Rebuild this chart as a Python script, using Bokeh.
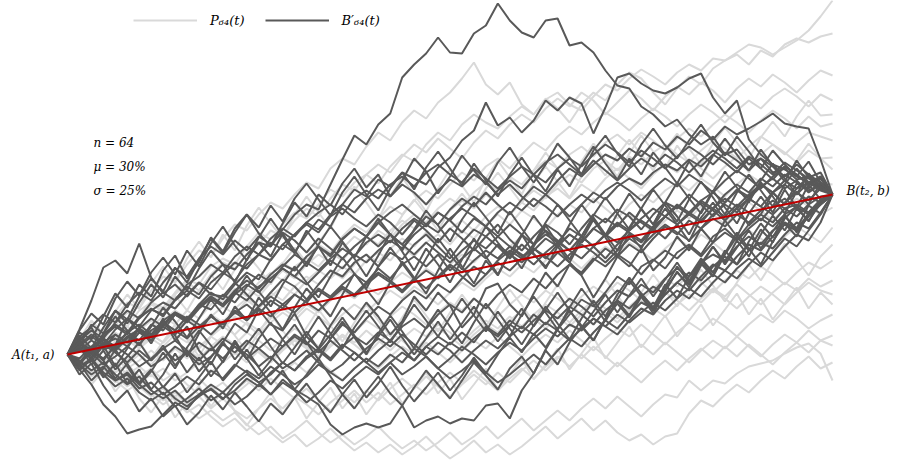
from bokeh.plotting import figure
from bokeh.models import Range1d, Legend, LegendItem, Label, ColumnDataSource
from bokeh.embed import file_html
from bokeh.resources import INLINE

# ---------------- data (values in chart units, A = 0, B = 160) ----------------
n_steps = 64
t_steps = list(range(n_steps + 1))
a_value = 0
b_value = 160
label_n = "n = 64"
label_mu = "μ = 30%"
label_sigma = "σ = 25%"

# Unconditioned paths P_64(t)
p01 = [0, 14, 8, 25, 35, 28, 44, 52, 47, 62, 75, 70, 88,
       96, 90, 108, 122, 115, 130, 142, 136, 150, 165, 158, 172, 180,
       171, 188, 200, 193, 210, 222, 214, 230, 240, 232, 226, 238, 248,
       240, 255, 262, 250, 244, 258, 270, 264, 276, 285, 278, 270, 282,
       290, 284, 296, 294, 302, 310, 307, 300, 307, 314, 324, 338, 354]
p02 = [0, 12, 26, 20, 38, 52, 46, 64, 78, 72, 90, 104, 98,
       116, 130, 124, 140, 152, 146, 160, 172, 166, 186, 196, 190, 208,
       222, 214, 232, 244, 236, 252, 262, 276, 292, 270, 260, 272, 250,
       240, 256, 246, 232, 250, 262, 254, 270, 282, 276, 262, 250, 266,
       278, 270, 286, 294, 300, 290, 304, 298, 310, 316, 312, 318, 321]
p03 = [0, 10, 22, 14, 30, 42, 36, 50, 44, 60, 72, 64, 80,
       92, 86, 100, 110, 124, 118, 134, 146, 138, 156, 170, 164, 180,
       190, 182, 198, 210, 202, 216, 206, 196, 212, 224, 216, 230, 240,
       232, 246, 256, 248, 262, 254, 240, 252, 264, 256, 244, 258, 268,
       260, 272, 264, 252, 266, 276, 268, 280, 272, 262, 274, 284, 279]
p04 = [0, 6, -4, 8, 18, 10, 24, 34, 26, 40, 32, 46, 56,
       48, 62, 74, 66, 80, 92, 84, 98, 110, 102, 118, 130, 122,
       136, 148, 140, 154, 164, 156, 170, 182, 174, 188, 196, 186, 200,
       212, 204, 218, 228, 220, 232, 242, 234, 224, 236, 246, 238, 228,
       240, 250, 242, 232, 244, 254, 246, 258, 266, 258, 248, 260, 254]
p05 = [0, -8, 4, 14, 6, 20, 12, 28, 38, 30, 44, 36, 50,
       60, 52, 66, 58, 72, 84, 76, 90, 100, 92, 106, 118, 110,
       124, 116, 130, 140, 132, 146, 156, 148, 162, 172, 164, 178, 170,
       184, 194, 186, 200, 208, 198, 212, 220, 210, 222, 214, 204, 216,
       226, 218, 230, 240, 232, 222, 234, 244, 236, 226, 238, 228, 231]
p06 = [0, 8, 16, 8, 22, 14, 28, 20, 34, 44, 36, 50, 60,
       52, 66, 58, 72, 82, 74, 88, 96, 88, 102, 94, 108, 118,
       110, 124, 134, 126, 140, 130, 144, 154, 146, 160, 150, 140, 154,
       164, 156, 170, 180, 172, 186, 194, 184, 198, 190, 202, 210, 200,
       192, 204, 214, 206, 196, 208, 218, 210, 200, 212, 222, 218, 214]
p07 = [0, -10, 0, -8, 6, 14, 6, 20, 12, 26, 36, 28, 40,
       32, 46, 56, 48, 62, 54, 68, 78, 70, 84, 76, 90, 100,
       92, 106, 116, 108, 122, 112, 126, 134, 124, 138, 148, 140, 152,
       144, 158, 166, 156, 170, 162, 176, 186, 176, 166, 180, 190, 182,
       194, 186, 176, 188, 198, 190, 200, 210, 202, 192, 204, 196, 197]
p08 = [0, 6, -2, 10, 2, 14, 24, 16, 28, 20, 34, 26, 38,
       48, 40, 54, 46, 58, 68, 60, 74, 84, 76, 88, 80, 94,
       102, 94, 108, 98, 112, 120, 110, 124, 116, 130, 140, 130, 144,
       136, 126, 140, 150, 142, 156, 146, 136, 150, 160, 152, 164, 172,
       164, 176, 168, 158, 170, 180, 172, 162, 174, 166, 178, 172, 170]
p09 = [0, -6, 4, -4, 8, 16, 8, 20, 12, 24, 16, 6, 18,
       28, 20, 32, 24, 36, 46, 38, 50, 42, 54, 64, 56, 68,
       60, 72, 82, 74, 86, 78, 90, 100, 92, 104, 96, 108, 118,
       110, 122, 114, 104, 116, 126, 118, 130, 140, 132, 122, 134, 144,
       136, 148, 140, 130, 142, 152, 144, 134, 146, 156, 148, 140, 147]
p10 = [0, 8, 0, -10, 2, -6, 6, 16, 8, 20, 12, 24, 34,
       26, 38, 30, 20, 32, 42, 34, 46, 38, 28, 40, 50, 42,
       54, 64, 56, 68, 60, 50, 62, 72, 64, 76, 86, 78, 90,
       82, 94, 104, 96, 86, 98, 108, 100, 112, 104, 94, 106, 116,
       108, 120, 112, 102, 114, 124, 116, 106, 118, 128, 120, 112, 127]
p11 = [0, -6, -16, -8, -18, -10, 0, -10, 2, -6, 6, -4, 8,
       18, 10, 22, 14, 4, 16, 26, 18, 8, 20, 30, 22, 34,
       26, 38, 48, 40, 30, 42, 52, 44, 56, 48, 38, 50, 60,
       52, 64, 56, 46, 58, 68, 60, 72, 64, 54, 66, 76, 68,
       80, 72, 62, 74, 84, 76, 88, 80, 70, 82, 92, 86, 94]
p12 = [0, 4, -6, -16, -8, -20, -12, -22, -14, -26, -18, -8, -18,
       -8, 2, -8, 4, -6, 6, 16, 8, -2, 10, 20, 12, 24,
       14, 4, 16, 26, 18, 30, 22, 12, 24, 34, 26, 38, 28,
       40, 50, 42, 32, 44, 54, 46, 36, 48, 58, 50, 62, 54,
       44, 56, 66, 58, 70, 60, 50, 62, 72, 64, 76, 68, 74]
p13 = [0, -10, -2, -14, -24, -16, -28, -20, -32, -42, -34, -24, -36,
       -28, -40, -30, -20, -30, -18, -8, -18, -6, -16, -26, -14, -4,
       -14, -2, 8, 0, 12, 2, -8, 4, 14, 6, 18, 8, -2,
       10, 20, 12, 24, 14, 4, 16, 26, 18, 30, 20, 10, 22,
       32, 24, 36, 28, 18, 30, 40, 32, 44, 36, 26, 34, 40]
p14 = [0, -8, -18, -10, -22, -32, -24, -36, -46, -38, -50, -42, -54,
       -44, -56, -64, -54, -44, -54, -42, -50, -60, -48, -38, -48, -36,
       -46, -34, -24, -34, -22, -32, -42, -30, -20, -30, -18, -28, -16,
       -6, -16, -4, 6, -4, 8, -2, -12, 0, 10, 0, 12, 2,
       -8, 4, 14, 6, 18, 8, -2, 10, 20, 12, 24, 14, 19]
p15 = [0, -6, 4, -8, -18, -10, -22, -14, -26, -18, -30, -40, -32,
       -44, -36, -26, -36, -24, -34, -44, -34, -46, -56, -46, -36, -48,
       -38, -50, -40, -30, -40, -28, -18, -28, -16, -26, -36, -24, -14,
       -24, -12, -2, -12, 0, -10, -20, -8, -18, -28, -16, -6, -16,
       -4, 6, -4, 8, -2, 10, 0, -10, 2, 12, 2, 14, 9]
p16 = [0, -10, -22, -14, -26, -36, -28, -40, -50, -42, -54, -64, -56,
       -66, -58, -70, -80, -72, -84, -76, -66, -78, -88, -80, -90, -82,
       -72, -84, -94, -86, -96, -88, -78, -90, -82, -72, -84, -74, -64,
       -76, -66, -56, -66, -54, -44, -54, -42, -52, -62, -50, -40, -43,
       -26, -36, -26, -29, -19, -12, -9, -6, 1, 7, 11, 1, -26]
p17 = [0, -12, -4, -16, -28, -20, -32, -42, -34, -46, -58, -50, -62,
       -72, -64, -76, -66, -78, -88, -80, -92, -84, -74, -86, -96, -88,
       -98, -90, -100, -92, -82, -94, -104, -96, -86, -98, -90, -100, -92,
       -82, -72, -84, -74, -64, -76, -66, -78, -86, -80, -90, -82, -79,
       -59, -46, -52, -40, -30, -38, -26, -16, -24, -12, -2, -14, -8]
p18 = [0, 8, -2, 6, -4, -14, -6, 4, -6, 6, -4, 8, 18,
       10, 0, 12, 2, -8, 4, 14, 6, -4, 8, 18, 10, 0,
       12, 22, 14, 4, 16, 26, 18, 8, 20, 30, 22, 34, 44,
       36, 26, 38, 28, 40, 50, 42, 32, 44, 54, 46, 38, 50,
       60, 52, 64, 56, 46, 58, 68, 60, 50, 62, 72, 64, 60]
p19 = [0, 15, 34, 21, 43, 60, 46, 71, 88, 72, 96, 113, 97,
       120, 104, 129, 147, 131, 116, 140, 158, 142, 126, 150, 168, 152,
       135, 159, 177, 160, 143, 166, 185, 169, 152, 176, 194, 177, 160,
       184, 202, 186, 169, 193, 211, 194, 178, 201, 219, 203, 186, 209,
       192, 176, 198, 215, 199, 182, 205, 188, 172, 194, 211, 196, 185]
p20 = [0, -14, -30, -16, -37, -22, -44, -58, -41, -63, -48, -31, -52,
       -36, -57, -71, -54, -38, -59, -43, -64, -48, -33, -54, -39, -60,
       -44, -28, -49, -34, -18, -39, -24, -45, -30, -14, -35, -20, -4,
       -25, -10, 6, -15, 1, 17, -4, 12, 28, 7, 23, 39, 18,
       34, 50, 29, 45, 61, 40, 56, 35, 51, 67, 46, 62, 50]
p21 = [0, 11, -4, 17, 33, 18, 38, 54, 39, 59, 44, 64, 80,
       65, 85, 101, 86, 70, 91, 107, 92, 112, 128, 113, 97, 118,
       134, 119, 139, 155, 140, 124, 145, 161, 146, 166, 182, 167, 151,
       172, 188, 173, 157, 178, 194, 179, 199, 215, 200, 184, 205, 221,
       206, 190, 211, 227, 212, 196, 217, 233, 218, 238, 254, 239, 240]
p22 = [0, -9, 8, -5, 14, 29, 12, -4, 13, 30, 15, -2, 18,
       35, 19, 3, 22, 40, 24, 8, 27, 45, 29, 13, 32, 50,
       34, 18, 37, 55, 39, 23, 42, 60, 44, 28, 47, 65, 49,
       33, 52, 70, 54, 38, 57, 75, 59, 43, 62, 80, 64, 48,
       67, 85, 69, 53, 72, 90, 74, 93, 111, 95, 79, 98, 110]

# Bridges B'_64(t), all pinned at A and B
b01 = [0, 12, 5, 20, 30, 22, 38, 45, 40, 55, 68, 60, 78,
       90, 85, 100, 112, 108, 125, 140, 150, 145, 170, 195, 219, 210,
       230, 241, 277, 290, 301, 317, 302, 301, 321, 329, 351, 334, 322,
       317, 334, 336, 309, 312, 302, 284, 269, 266, 248, 240, 228, 235,
       220, 210, 218, 200, 205, 190, 196, 182, 186, 175, 178, 168, 160]
b02 = [0, -8, 6, 15, 4, 18, 25, 14, 30, 42, 35, 50, 62,
       55, 70, 82, 75, 95, 110, 102, 120, 135, 128, 150, 165, 158,
       175, 168, 182, 176, 170, 187, 197, 214, 224, 252, 229, 237, 222,
       234, 254, 244, 257, 251, 221, 247, 277, 281, 271, 264, 261, 267,
       276, 281, 257, 241, 254, 215, 200, 190, 185, 178, 172, 168, 160]
b03 = [0, -15, -30, -50, -62, -79, -75, -72, -60, -48, -55, -40, -35,
       -45, -30, -20, -28, -40, -25, -35, -42, -50, -70, -80, -73, -69,
       -73, -69, -51, -73, -66, -62, -69, -64, -66, -51, -49, -64, -36,
       -19, 5, 25, 40, 55, 48, 62, 78, 70, 88, 95, 86, 102,
       110, 100, 118, 126, 115, 130, 140, 132, 146, 150, 142, 155, 160]
b04 = [0, 25, 54, 87, 94, 81, 111, 77, 61, 70, 58, 72, 60,
       58, 72, 60, 48, 62, 75, 68, 55, 70, 84, 78, 92, 100,
       88, 102, 95, 110, 120, 108, 96, 112, 125, 118, 130, 115, 104,
       118, 130, 122, 110, 126, 140, 132, 145, 138, 125, 140, 152, 146,
       160, 150, 138, 152, 165, 158, 170, 162, 150, 166, 172, 164, 160]
b05 = [0, -10, 4, -6, 10, 22, 14, 30, 24, 40, 34, 50, 45,
       60, 52, 68, 80, 72, 88, 100, 92, 108, 98, 115, 126, 118,
       132, 120, 110, 124, 138, 130, 145, 156, 148, 162, 150, 140, 155,
       168, 160, 174, 186, 178, 190, 200, 194, 206, 198, 212, 205, 218,
       210, 224, 215, 228, 220, 226, 233, 241, 231, 228, 226, 195, 160]
b06 = [0, 8, 18, 10, 25, 36, 28, 44, 52, 46, 60, 72, 65,
       80, 92, 86, 100, 112, 105, 120, 132, 125, 140, 150, 142, 156,
       165, 158, 170, 162, 150, 164, 175, 168, 180, 172, 160, 170, 158,
       148, 160, 150, 138, 150, 162, 155, 168, 176, 170, 182, 190, 184,
       195, 188, 200, 192, 182, 196, 186, 175, 188, 180, 170, 176, 160]
b07 = [0, -12, -4, -18, -26, -20, -34, -28, -40, -32, -22, -30, -16,
       -24, -10, -18, -28, -20, -8, -16, -2, 6, -4, 10, 2, -8,
       4, 14, 6, -6, 8, 18, 10, 22, 12, 28, 20, 34, 26,
       40, 30, 44, 56, 48, 38, 52, 64, 58, 70, 62, 76, 86,
       78, 92, 100, 94, 108, 118, 110, 124, 132, 126, 140, 150, 160]
b08 = [0, 6, -4, 10, 16, 8, 22, 14, 28, 20, 34, 26, 38,
       30, 42, 50, 40, 54, 46, 60, 52, 66, 58, 70, 80, 72,
       86, 76, 90, 98, 88, 100, 84, 96, 106, 96, 110, 100, 92,
       104, 116, 108, 120, 112, 126, 118, 130, 122, 114, 128, 138, 130,
       142, 134, 146, 138, 150, 142, 134, 148, 156, 146, 158, 152, 160]
b09 = [0, -8, 4, -4, 8, 0, -12, -4, 6, -6, 2, -10, -2,
       10, 2, 14, 6, -4, 8, 18, 10, 24, 16, 30, 22, 36,
       48, 40, 54, 64, 56, 70, 62, 76, 88, 80, 94, 104, 96,
       110, 120, 112, 126, 118, 108, 120, 132, 124, 136, 146, 138, 150,
       142, 154, 162, 152, 164, 156, 168, 176, 166, 174, 162, 170, 160]
b10 = [0, 14, 24, 16, 32, 44, 36, 52, 62, 54, 70, 78, 90,
       82, 98, 108, 100, 116, 126, 118, 132, 142, 150, 140, 156, 164,
       156, 170, 178, 168, 182, 190, 180, 172, 186, 176, 166, 178, 188,
       180, 192, 200, 190, 180, 194, 184, 174, 186, 196, 188, 200, 192,
       182, 194, 204, 196, 186, 198, 190, 180, 192, 184, 176, 168, 160]
b11 = [0, -6, -16, -8, -20, -30, -22, -36, -44, -36, -48, -40, -30,
       -38, -26, -16, -24, -12, -20, -30, -22, -10, -18, -26, -14, -4,
       -12, 0, -8, 6, -2, -14, -4, 8, 0, -10, 2, 12, 4,
       16, 26, 18, 30, 24, 36, 28, 20, 34, 46, 40, 54, 64,
       56, 70, 80, 72, 86, 96, 88, 102, 116, 108, 124, 140, 160]
b12 = [0, 10, 2, 16, 8, 22, 30, 20, 34, 42, 36, 48, 58,
       50, 64, 74, 66, 80, 90, 84, 98, 108, 100, 116, 126, 118,
       132, 142, 150, 140, 130, 142, 134, 122, 136, 128, 118, 130, 120,
       110, 124, 114, 104, 118, 108, 96, 110, 120, 112, 126, 116, 130,
       140, 132, 146, 156, 148, 160, 170, 162, 174, 166, 178, 170, 160]
b13 = [0, -10, -20, -12, -26, -18, -30, -40, -32, -44, -52, -42, -34,
       -44, -36, -24, -32, -18, -8, -16, -4, 4, -6, 8, 18, 10,
       22, 14, 28, 36, 26, 40, 50, 42, 56, 46, 60, 70, 62,
       76, 66, 80, 90, 82, 96, 88, 100, 92, 80, 94, 104, 96,
       108, 98, 112, 122, 114, 126, 136, 128, 140, 148, 140, 152, 160]
b14 = [0, 12, 4, 18, 28, 20, 36, 46, 38, 54, 64, 56, 72,
       82, 74, 90, 100, 94, 110, 120, 130, 122, 138, 146, 136, 128,
       140, 132, 120, 134, 124, 112, 126, 116, 104, 118, 108, 96, 110,
       100, 88, 102, 92, 80, 94, 106, 98, 110, 102, 116, 128, 120,
       134, 126, 140, 150, 142, 156, 148, 162, 170, 160, 172, 166, 160]
b15 = [0, 6, -2, 10, 2, -8, 4, -6, 6, 14, 4, -6, 6,
       -4, 8, 0, -12, -2, -14, -6, 4, -8, -18, -10, 2, -8,
       -18, -8, -20, -12, -2, -14, -24, -16, -6, -18, -28, -20, -10,
       0, -10, 4, 16, 8, 22, 34, 26, 40, 52, 46, 60, 72,
       64, 78, 90, 84, 98, 110, 104, 118, 130, 124, 138, 150, 160]
b16 = [0, 4, 14, 6, 20, 12, 26, 36, 28, 42, 34, 48, 58,
       50, 62, 54, 68, 76, 86, 78, 92, 84, 96, 106, 98, 112,
       120, 112, 126, 136, 128, 142, 134, 148, 158, 150, 164, 174, 166,
       180, 172, 186, 196, 188, 200, 210, 202, 192, 204, 196, 186, 198,
       208, 200, 190, 202, 194, 184, 196, 188, 178, 190, 180, 172, 160]
b17 = [0, -14, -6, -20, -32, -24, -38, -46, -38, -52, -44, -34, -46,
       -38, -50, -42, -30, -40, -28, -36, -48, -38, -26, -34, -22, -12,
       -20, -8, 2, -6, 8, 0, 12, 4, 16, 26, 18, 30, 22,
       34, 44, 36, 48, 40, 30, 44, 54, 46, 58, 68, 60, 72,
       82, 74, 88, 98, 90, 104, 112, 106, 120, 132, 126, 142, 160]
b18 = [0, -4, 8, 16, 6, 18, 10, 24, 32, 24, 38, 30, 20,
       32, 42, 34, 46, 38, 50, 60, 52, 44, 56, 66, 58, 70,
       80, 72, 62, 74, 84, 76, 88, 78, 68, 80, 92, 84, 96,
       106, 98, 88, 100, 110, 102, 92, 104, 116, 108, 120, 130, 122,
       114, 126, 136, 128, 140, 132, 144, 154, 146, 138, 150, 158, 160]
b19 = [0, 10, 20, 12, 4, 16, 26, 18, 30, 40, 32, 46, 56,
       48, 60, 70, 62, 76, 86, 78, 70, 82, 94, 86, 100, 92,
       104, 114, 106, 120, 130, 122, 136, 146, 138, 128, 142, 152, 144,
       156, 148, 138, 150, 160, 152, 164, 172, 164, 154, 166, 176, 168,
       180, 172, 162, 174, 184, 176, 166, 178, 188, 180, 170, 176, 160]
b20 = [0, -8, 2, -10, -2, 8, 0, -12, -4, 8, 0, 12, 4,
       16, 8, -4, 6, 16, 8, 20, 12, 2, 14, 4, -6, 6,
       16, 8, 20, 10, 0, 12, 4, -8, 4, 14, 6, 18, 28,
       20, 32, 24, 14, 26, 36, 28, 40, 32, 42, 52, 44, 56,
       66, 58, 72, 84, 76, 90, 102, 94, 108, 120, 114, 132, 160]
b21 = [0, 8, 0, 12, 20, 12, 26, 18, 32, 24, 16, 28, 38,
       30, 44, 36, 48, 58, 50, 42, 54, 64, 56, 68, 60, 72,
       82, 74, 64, 76, 66, 78, 90, 82, 94, 104, 96, 108, 100,
       90, 102, 112, 104, 96, 108, 120, 112, 124, 134, 126, 138, 148,
       140, 152, 144, 134, 146, 156, 148, 140, 152, 162, 154, 166, 160]
b22 = [0, 14, 28, 40, 32, 50, 62, 54, 72, 86, 78, 96, 108,
       100, 114, 104, 118, 110, 122, 114, 102, 116, 106, 96, 108, 118,
       108, 120, 110, 100, 112, 102, 92, 104, 114, 106, 118, 108, 98,
       106, 96, 110, 120, 112, 126, 136, 128, 142, 132, 124, 138, 148,
       140, 154, 146, 160, 170, 162, 176, 168, 180, 172, 164, 170, 160]
b23 = [0, 18, 27, 5, 9, 36, 23, 17, 36, 14, 28, 4, -10,
       12, 31, 22, 45, 30, 24, 41, 18, 6, 29, 47, 35, 52,
       38, 20, 33, 58, 44, 62, 49, 27, 40, 66, 71, 50, 38,
       61, 82, 68, 90, 79, 57, 76, 98, 88, 106, 84, 97, 118,
       104, 126, 112, 134, 147, 129, 140, 162, 150, 171, 166, 178, 160]
b24 = [0, 22, 15, 38, 61, 47, 70, 58, 84, 99, 76, 92, 117,
       103, 126, 140, 121, 108, 131, 152, 138, 160, 149, 171, 186, 167,
       180, 158, 174, 196, 183, 161, 178, 199, 184, 170, 192, 207, 188,
       172, 190, 211, 197, 180, 204, 219, 201, 188, 210, 226, 209, 196,
       214, 230, 212, 199, 218, 203, 186, 204, 190, 178, 193, 172, 160]
b25 = [0, -20, -9, -31, -48, -36, -57, -44, -62, -51, -70, -58, -41,
       -55, -38, -52, -67, -49, -60, -43, -29, -46, -58, -40, -54, -37,
       -22, -39, -51, -33, -16, -30, -44, -26, -8, -21, -35, -14, -2,
       -19, 4, -10, 12, 28, 14, 35, 51, 37, 58, 44, 66, 82,
       70, 91, 78, 100, 118, 104, 125, 112, 136, 148, 133, 154, 160]
b26 = [0, 16, -7, 9, -12, 6, 27, 11, 33, 19, -2, 21, 40,
       26, 48, 34, 57, 42, 25, 47, 66, 52, 38, 60, 81, 65,
       50, 72, 93, 77, 61, 84, 106, 88, 71, 94, 79, 102, 120,
       101, 86, 108, 92, 114, 135, 117, 99, 121, 106, 128, 146, 130,
       113, 137, 152, 134, 118, 141, 158, 142, 165, 147, 170, 155, 160]
b27 = [0, 24, 41, 30, 56, 73, 59, 82, 97, 80, 104, 88, 111,
       128, 109, 94, 117, 136, 119, 101, 124, 108, 89, 112, 96, 78,
       99, 121, 103, 84, 106, 90, 72, 95, 116, 98, 80, 102, 86,
       108, 129, 111, 95, 118, 137, 120, 104, 127, 146, 130, 152, 138,
       120, 143, 164, 147, 131, 154, 172, 158, 141, 163, 150, 172, 160]
b28 = [0, -11, 8, -6, -24, -9, -28, -15, -33, -19, -38, -23, -7,
       -26, -12, 5, -13, -30, -16, -35, -20, -4, -22, -40, -25, -43,
       -29, -12, -31, -47, -33, -18, -36, -21, -3, -19, 0, 17, 2,
       21, 7, 26, 44, 29, 14, 36, 54, 39, 61, 47, 70, 56,
       78, 96, 82, 104, 90, 113, 131, 117, 138, 126, 149, 141, 160]
b29 = [0, 9, 30, 21, 44, 35, 58, 76, 63, 87, 72, 95, 116,
       101, 122, 140, 127, 149, 133, 156, 171, 155, 139, 162, 178, 160,
       144, 166, 182, 165, 187, 203, 186, 169, 191, 174, 158, 180, 197,
       179, 163, 185, 168, 190, 208, 191, 175, 196, 180, 202, 187, 171,
       193, 178, 199, 216, 200, 184, 205, 189, 173, 194, 177, 182, 160]
b30 = [0, -9, -26, -14, 5, -12, -30, -17, 2, -14, 7, 24, 9,
       -8, 12, -5, 16, 32, 15, 0, 19, 38, 21, 6, 27, 44,
       28, 12, 31, 50, 34, 18, 37, 56, 39, 23, 43, 26, 10,
       29, 48, 31, 15, 36, 54, 38, 60, 77, 61, 46, 68, 88,
       72, 94, 79, 101, 122, 106, 90, 113, 131, 118, 142, 154, 160]
b31 = [0, 13, 2, 21, 38, 24, 9, 28, 47, 33, 17, 36, 55,
       40, 61, 79, 63, 48, 70, 88, 72, 57, 78, 97, 81, 66,
       88, 107, 91, 75, 96, 116, 100, 85, 107, 128, 112, 97, 119,
       139, 123, 108, 130, 150, 134, 119, 141, 161, 145, 130, 152, 172,
       156, 141, 163, 183, 167, 152, 174, 191, 176, 160, 181, 168, 160]
b32 = [0, -16, -4, -23, -9, -29, -15, -35, -20, 1, -18, -3, -22,
       -7, 14, -4, -21, -6, 15, 30, 12, -5, 16, 33, 17, 0,
       21, 39, 23, 6, 27, 45, 28, 11, 32, 51, 35, 18, 40,
       58, 42, 25, 47, 66, 50, 33, 55, 74, 58, 41, 63, 83,
       67, 89, 108, 92, 114, 98, 120, 139, 124, 146, 134, 151, 160]
b33 = [0, 19, 6, 27, 44, 31, 52, 70, 57, 78, 64, 86, 104,
       90, 72, 95, 112, 98, 121, 104, 88, 110, 128, 113, 97, 118,
       136, 120, 104, 125, 144, 129, 113, 135, 152, 137, 121, 143, 126,
       110, 132, 150, 134, 118, 139, 157, 141, 125, 146, 165, 149, 133,
       155, 173, 157, 140, 162, 180, 164, 148, 170, 186, 172, 178, 160]
b34 = [0, 8, -10, 4, -15, -2, 12, -6, 9, -11, 3, -17, -3,
       13, -5, 10, 26, 8, -9, 7, 23, 5, 20, 37, 19, 2,
       18, 35, 17, 0, 16, 33, 15, 31, 48, 30, 13, 29, 46,
       28, 45, 62, 44, 27, 43, 60, 42, 59, 76, 58, 75, 92,
       74, 91, 108, 90, 107, 124, 106, 123, 140, 122, 139, 150, 160]

light_paths = [p01, p02, p03, p04, p05, p06, p07, p08, p09, p10, p11,
               p12, p13, p14, p15, p16, p17, p18, p19, p20, p21, p22]
bridge_paths = [b01, b02, b03, b04, b05, b06, b07, b08, b09, b10, b11, b12,
                b13, b14, b15, b16, b17, b18, b19, b20, b21, b22, b23, b24,
                b25, b26, b27, b28, b29, b30, b31, b32, b33, b34]

for k, path in enumerate(light_paths + bridge_paths):
    if len(path) != len(t_steps):
        raise ValueError(f"path {k} has {len(path)} points")

# ---------------- figure ----------------
W, H = 901, 472
p = figure(width=W, height=H, output_backend="svg", toolbar_location=None,
           x_range=Range1d(-5.605, 69.77), y_range=Range1d(-118, 354),
           min_border=0)
p.axis.visible = False
p.xgrid.visible = False
p.ygrid.visible = False
p.outline_line_color = None
p.background_fill_color = "white"
p.border_fill_color = "white"

LIGHT = "#D9D9D9"
DARK = "#595959"
RED = "#C00000"

src_light = ColumnDataSource(dict(xs=[t_steps] * len(light_paths), ys=light_paths))
src_dark = ColumnDataSource(dict(xs=[t_steps] * len(bridge_paths), ys=bridge_paths))

r_light = p.multi_line("xs", "ys", source=src_light, line_color=LIGHT, line_width=2)
r_dark = p.multi_line("xs", "ys", source=src_dark, line_color=DARK, line_width=2)
p.line([0, n_steps], [a_value, b_value], line_color=RED, line_width=2)

FONT = "DejaVu Serif"
legend = Legend(items=[LegendItem(label="P₆₄(t)", renderers=[r_light]),
                       LegendItem(label="B′₆₄(t)", renderers=[r_dark])],
                orientation="horizontal", location=(133, 442),
                glyph_width=64, glyph_height=20, label_standoff=13,
                spacing=20, padding=0, margin=0,
                label_text_font=FONT, label_text_font_style="italic",
                label_text_font_size="13px", label_text_color="#000000",
                background_fill_alpha=0, border_line_alpha=0)
p.add_layout(legend)

def add_label(txt, x, y, align="left"):
    p.add_layout(Label(x=x, y=y, x_units="screen", y_units="screen", text=txt,
                       text_font=FONT, text_font_style="italic",
                       text_font_size="12px", text_color="#000000",
                       text_align=align, text_baseline="middle"))

add_label(label_n, 93, 330)
add_label(label_mu, 93, 306)
add_label(label_sigma, 93, 282)
add_label("A(t₁, a)", 54, 118, align="right")
add_label("B(t₂, b)", 846, 282)

open("out.html", "w").write(file_html(p, INLINE))
